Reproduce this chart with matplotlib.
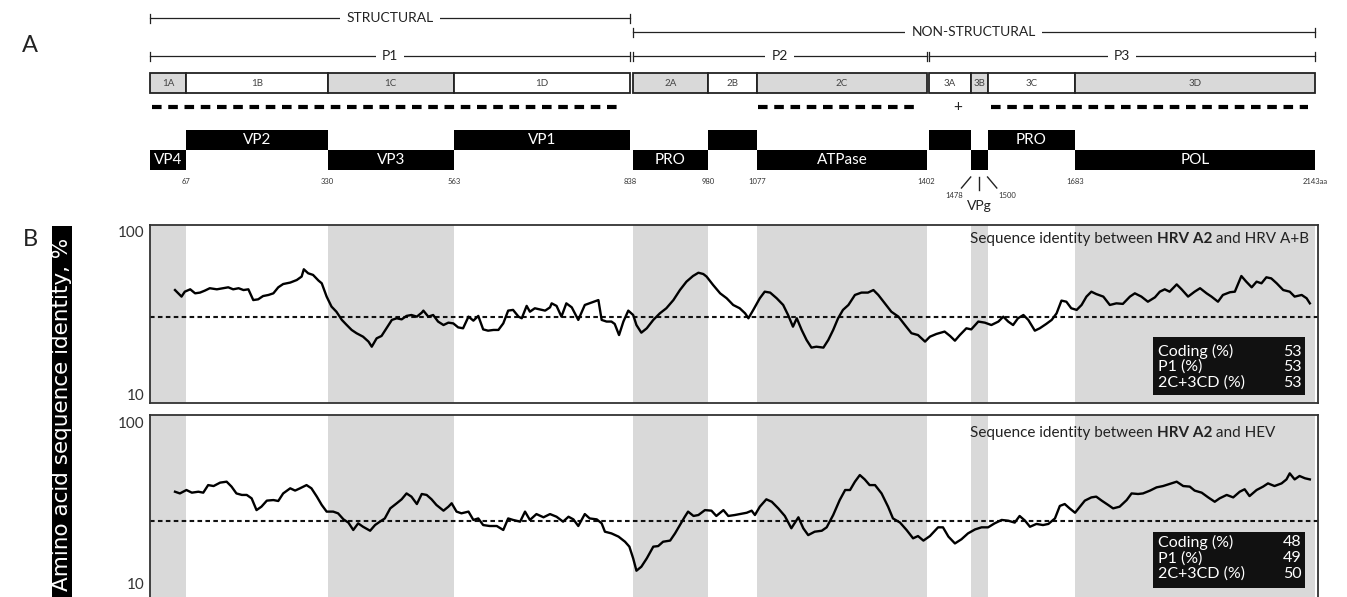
import numpy as np
import matplotlib
matplotlib.use("Agg")
import matplotlib.pyplot as plt
from matplotlib.patches import Rectangle

plt.rcParams['font.family'] = ['Lato', 'DejaVu Sans']

# genome map: aa numbering of HRV A2 and the matching alignment positions
boundary_aa = [0, 67, 330, 563, 838, 980, 1077, 1402, 1478, 1500, 1683, 2143]
boundary_pos = [0, 66, 327, 559, 883, 1027, 1117, 1429, 1510, 1541, 1702, 2143]
region_names = ['1A', '1B', '1C', '1D', '2A', '2B', '2C', '3A', '3B', '3C', '3D']
region_shaded = [True, False, True, False, True, False, True, False, True, False, True]
protein_names = ['VP4', 'VP2', 'VP3', 'VP1', 'PRO', '', 'ATPase', '', '', 'PRO', 'POL']
protein_upper = [False, True, False, True, False, True, False, True, False, True, False]
boundary_labels = ['67', '330', '563', '838', '980', '1077', '1402', '', '', '1683', '2143aa']

# sliding-window identity traces (alignment position, % identity)
ab_trace = [(46, 67.6), (58, 64.0), (64, 66.7), (74, 68.0), (83, 65.8), (92, 66.2), (101, 67.3), (110, 68.6),
            (123, 68.0), (135, 68.6), (144, 69.1), (153, 68.0), (163, 68.6), (172, 67.6), (181, 68.0), (190, 62.1),
            (199, 62.5), (208, 64.3), (218, 64.9), (227, 65.8), (236, 69.1), (245, 70.9), (258, 71.7), (270, 73.1),
            (279, 75.0), (283, 79.0), (291, 76.8), (300, 75.9), (310, 72.8), (316, 71.3), (325, 64.0), (334, 58.5),
            (343, 55.7), (353, 51.2), (362, 48.4), (371, 45.7), (380, 43.9), (392, 42.0), (402, 39.3), (408, 36.5),
            (417, 41.1), (426, 42.4), (435, 46.6), (445, 51.2), (454, 52.1), (463, 51.5), (472, 53.4), (481, 53.9),
            (491, 53.0), (500, 55.2), (503, 56.3), (512, 53.0), (521, 53.9), (530, 50.3), (540, 48.4), (549, 49.7),
            (558, 49.3), (567, 47.1), (576, 46.6), (586, 53.0), (595, 50.8), (604, 53.4), (613, 46.0), (622, 45.3),
            (632, 45.7), (641, 45.7), (650, 49.3), (659, 56.3), (668, 56.7), (678, 53.0), (684, 52.1), (693, 58.9),
            (699, 55.7), (708, 57.6), (717, 57.0), (727, 56.3), (736, 58.1),
            (739, 60.3), (748, 58.9), (757, 53.0), (766, 60.3), (776, 58.1), (788, 51.2), (800, 59.4), (812, 60.7),
            (825, 62.1), (831, 51.2), (840, 50.3), (849, 50.3), (855, 49.0), (863, 42.9), (871, 50.3), (880, 56.3),
            (889, 53.9), (895, 48.4), (904, 44.2), (914, 46.6), (926, 51.2), (938, 54.8), (950, 57.6), (963, 62.1),
            (975, 67.6), (987, 72.2), (999, 75.3), (1009, 77.1), (1018, 76.4), (1024, 75.0), (1036, 70.4),
            (1049, 65.8), (1061, 63.1), (1073, 59.4), (1085, 57.6), (1095, 54.8), (1101, 52.1), (1110, 56.7),
            (1122, 63.1), (1131, 66.7), (1141, 66.2), (1153, 63.1), (1165, 59.4), (1174, 53.9), (1183, 47.5),
            (1190, 52.1), (1199, 45.7), (1208, 40.2), (1217, 36.0), (1226, 36.5), (1239, 36.0), (1248, 40.2),
            (1257, 45.7), (1266, 52.1), (1275, 56.7), (1285, 59.4), (1297, 64.9), (1309, 66.2), (1321, 66.2),
            (1331, 67.6), (1340, 64.9), (1352, 60.3), (1364, 55.7), (1377, 53.0), (1389, 48.4), (1401, 43.9),
            (1413, 42.9), (1426, 39.3), (1435, 42.0), (1447, 43.5),
            (1462, 44.8), (1472, 42.4), (1481, 39.8), (1490, 42.9), (1502, 46.6), (1511, 46.0), (1524, 50.3),
            (1536, 49.7), (1548, 48.4), (1561, 50.3), (1570, 53.0), (1579, 50.3), (1588, 48.4), (1597, 52.1),
            (1607, 53.9), (1616, 51.2), (1628, 45.3), (1637, 46.6), (1649, 49.0), (1659, 51.2), (1668, 54.8),
            (1677, 61.8), (1686, 61.2), (1695, 57.6), (1705, 56.7), (1714, 59.4), (1723, 64.0), (1732, 66.7),
            (1741, 65.4), (1754, 64.0), (1766, 59.4), (1778, 60.3), (1790, 60.0), (1803, 64.0), (1812, 65.8),
            (1824, 64.0), (1836, 61.2), (1849, 63.6), (1858, 66.7), (1867, 68.0), (1876, 66.7), (1889, 70.7),
            (1898, 68.0), (1910, 64.0), (1922, 66.7), (1932, 68.6), (1944, 65.8), (1953, 64.0), (1965, 61.2),
            (1974, 64.9), (1987, 66.4), (1996, 66.7), (2008, 75.3), (2017, 72.2), (2027, 69.1), (2036, 72.2),
            (2045, 71.3), (2054, 74.6), (2063, 74.0), (2073, 71.3), (2085, 67.6), (2097, 66.7), (2106, 64.0),
            (2119, 64.9), (2128, 63.1), (2134, 60.3)]

hev_trace = [(46, 63.2), (55, 62.3), (67, 64.1), (77, 62.7), (89, 63.2), (98, 62.7), (107, 66.7), (117, 66.2),
             (129, 68.0), (141, 68.5), (150, 65.9), (159, 62.3), (169, 61.5), (178, 61.5), (187, 59.7), (196, 53.5),
             (205, 55.3), (215, 58.5), (227, 58.8), (236, 58.3), (245, 62.3), (258, 65.0), (267, 63.8), (276, 65.0),
             (288, 66.7), (297, 65.0), (307, 60.6), (316, 56.2), (325, 52.7), (337, 52.7), (346, 51.8), (356, 48.6),
             (365, 46.9), (374, 43.0), (383, 46.5), (392, 44.7), (405, 42.6), (414, 45.6), (423, 47.4), (432, 49.1),
             (442, 54.4), (454, 57.1), (463, 59.2), (472, 62.3), (481, 60.6), (491, 56.7), (500, 62.0), (509, 61.5),
             (518, 59.2), (527, 56.2), (540, 53.2), (549, 55.3), (555, 57.1), (564, 52.7), (573, 51.8), (586, 52.7),
             (595, 48.3), (604, 49.1), (613, 45.6), (625, 45.1), (638, 45.1), (650, 43.0), (659, 49.1), (668, 48.3),
             (681, 47.4), (690, 52.7), (699, 48.3), (711, 51.4), (724, 49.7), (736, 51.4),
             (748, 50.0), (760, 47.4), (770, 50.0), (779, 48.6), (788, 45.1), (800, 51.4), (809, 49.1), (822, 48.6),
             (831, 46.5), (837, 42.1), (849, 41.2), (862, 39.5), (874, 36.8), (882, 34.2), (889, 28.0), (895, 21.5),
             (904, 23.6), (914, 28.0), (926, 34.2), (935, 34.5), (944, 36.8), (957, 37.4), (966, 41.2), (975, 45.6),
             (984, 50.0), (990, 52.7), (1000, 50.4), (1009, 50.9), (1021, 53.5), (1033, 53.2), (1042, 50.4),
             (1055, 53.5), (1064, 50.4), (1076, 50.9), (1085, 51.4), (1098, 52.1), (1107, 53.2), (1113, 50.9),
             (1122, 55.3), (1134, 59.2), (1144, 57.9), (1156, 54.4), (1168, 50.4), (1180, 43.9), (1193, 49.7),
             (1202, 43.9), (1211, 40.3), (1223, 42.1), (1236, 42.6), (1245, 44.4), (1257, 50.9), (1269, 58.8),
             (1279, 64.1), (1288, 64.1), (1297, 68.5), (1306, 72.0), (1315, 69.7), (1324, 66.7), (1334, 66.7),
             (1346, 62.3), (1358, 55.3), (1367, 49.1), (1380, 46.9), (1392, 43.0), (1404, 38.6), (1413, 39.8),
             (1423, 37.4), (1435, 39.8), (1450, 44.4),
             (1459, 44.4), (1469, 39.5), (1481, 35.9), (1493, 38.1), (1505, 41.2), (1518, 43.3), (1530, 44.4),
             (1542, 44.4), (1554, 46.5), (1567, 48.3), (1579, 47.9), (1591, 46.9), (1600, 50.4), (1610, 47.9),
             (1619, 44.7), (1631, 46.2), (1643, 45.6), (1653, 46.2), (1665, 49.1), (1674, 55.7), (1683, 56.7),
             (1692, 54.4), (1702, 52.1), (1711, 55.3), (1720, 58.5), (1732, 60.2), (1741, 60.6), (1751, 58.5),
             (1763, 56.2), (1772, 54.4), (1784, 55.3), (1797, 58.8), (1806, 62.3), (1818, 62.0), (1827, 62.3),
             (1840, 63.8), (1852, 65.5), (1864, 66.2), (1876, 67.3), (1889, 68.5), (1901, 66.2), (1913, 65.9),
             (1922, 63.8), (1935, 62.7), (1947, 60.2), (1959, 57.9), (1968, 59.7), (1981, 61.5), (1993, 60.2),
             (2005, 63.2), (2014, 64.5), (2023, 60.9), (2036, 64.1), (2048, 65.9), (2057, 67.6), (2069, 66.2),
             (2082, 67.6), (2091, 69.7), (2097, 72.9), (2106, 69.7), (2115, 71.5), (2125, 70.3), (2134, 69.7)]

stat_labels = ['Coding (%)', 'P1 (%)', '2C+3CD (%)']
ab_stats = [53, 53, 53]
hev_stats = [48, 49, 50]
ab_mean = 53
hev_mean = 48

W, H = 1347, 597
fig = plt.figure(figsize=(W / 100, H / 100), dpi=100)


def fx(px):
    return px / W


def fy(py):
    return 1 - py / H


XMAX = 2149
GAP = 5  # small white gap where P1/P2 and P2/P3 meet
starts = list(boundary_pos[:-1])
ends = list(boundary_pos[1:])
for i in range(len(starts)):
    if boundary_aa[i] in (838, 1402):
        starts[i] += GAP

# ---------------- panel A: genome map ----------------
axa = fig.add_axes([fx(150), fy(220), fx(1168), 220 / H])
axa.set_xlim(0, XMAX)
axa.set_ylim(220, 0)
axa.axis('off')


def bracket(x0, x1, y, label):
    axa.plot([x0, x1], [y, y], color='#222', lw=0.9, clip_on=False)
    for x in (x0, x1):
        axa.plot([x, x], [y - 4.5, y + 4.5], color='#222', lw=0.9, clip_on=False)
    axa.text((x0 + x1) / 2, y, label, ha='center', va='center', fontsize=10, color='#222',
             bbox=dict(boxstyle='square,pad=0.45', fc='white', ec='none'))


bracket(starts[0], ends[3], 18, 'STRUCTURAL')
bracket(starts[4], ends[-1], 32, 'NON-STRUCTURAL')
bracket(starts[0], ends[3], 56, 'P1')
bracket(starts[4], ends[6], 56, 'P2')
bracket(starts[7], ends[-1], 56, 'P3')

for x0, x1, name, shaded in zip(starts, ends, region_names, region_shaded):
    axa.add_patch(Rectangle((x0, 73), x1 - x0, 20, fc='#d9d9d9' if shaded else 'white',
                            ec='#222', lw=1.3, clip_on=False))
    axa.text((x0 + x1) / 2, 83, name, ha='center', va='center', fontsize=7, color='#444')

# conserved stretches used for identity summaries
dash_style = dict(color='black', lw=3.0, ls=(0, (2.3, 1.6)), dash_capstyle='butt')
axa.plot([starts[0] + 4, ends[3] - 12], [107, 107], **dash_style)
axa.plot([starts[6] + 2, ends[6] - 18], [107, 107], **dash_style)
axa.plot([starts[9] + 6, ends[10] - 12], [107, 107], **dash_style)
axa.text(starts[8] - 24, 107, '+', ha='center', va='center', fontsize=11, color='#222')

for x0, x1, name, up in zip(starts, ends, protein_names, protein_upper):
    y0 = 130 if up else 150
    axa.add_patch(Rectangle((x0, y0), x1 - x0, 20, fc='black', ec='none', clip_on=False))
    if name:
        axa.text((x0 + x1) / 2, y0 + 10, name, ha='center', va='center', fontsize=11, color='white')

for x, lab in zip(boundary_pos[1:], boundary_labels):
    if lab:
        axa.text(x, 181, lab, ha='center', va='center', fontsize=5.5, color='#333')

# VPg pointer
vx0, vx1 = starts[8], ends[8]
vc = (vx0 + vx1) / 2
axa.plot([vx0, vx0 - 17], [177, 188], color='#222', lw=1, clip_on=False)
axa.plot([vc, vc], [177, 190], color='#222', lw=1, clip_on=False)
axa.plot([vx1, vx1 + 17], [177, 188], color='#222', lw=1, clip_on=False)
axa.text(vx0 - 30, 195, str(boundary_aa[8]), ha='center', va='center', fontsize=5.5, color='#333')
axa.text(vx1 + 37, 195, str(boundary_aa[9]), ha='center', va='center', fontsize=5.5, color='#333')
axa.text(vc, 206, 'VPg', ha='center', va='center', fontsize=10, color='#222', clip_on=False)

# ---------------- panel B: identity plots ----------------
ax1 = fig.add_axes([fx(150), fy(403), fx(1168), 178 / H])
ax2 = fig.add_axes([fx(150), fy(605), fx(1168), 190 / H])
ax1.set_ylim(5.6, 103.3)
ax2.set_ylim(3.4, 103.7)

panels = [
    (ax1, ab_trace, ab_mean, ab_stats, ' and HRV A+B', 0.921, [0.371, 0.045], [0.289, 0.202, 0.115]),
    (ax2, hev_trace, hev_mean, hev_stats, ' and HEV', 0.905, [0.384, 0.089], [0.329, 0.247, 0.165]),
]

for ax, trace, mean, stats, tail, ty, box, rows in panels:
    ax.set_xlim(0, XMAX)
    for x0, x1, shaded in zip(starts, ends, region_shaded):
        if shaded:
            ax.axvspan(x0, x1, color='#d9d9d9', lw=0, zorder=0)
    pos = np.array([p for p, v in trace])
    ident = np.array([v for p, v in trace])
    ax.plot(pos, ident, color='black', lw=1.7, zorder=3)
    ax.axhline(mean, color='#111', lw=1.5, ls=(0, (2.2, 1.6)), zorder=2)

    ax.set_xticks([])
    ax.set_yticks([10, 100])
    ax.tick_params(axis='y', length=0, pad=4, labelsize=11, labelcolor='#333')
    for s in ax.spines.values():
        s.set_color('#333')
        s.set_linewidth(1.3)

    t1 = ax.text(0.702, ty, 'Sequence identity between ', transform=ax.transAxes,
                 ha='left', va='center', fontsize=11, color='#222')
    t2 = ax.annotate('HRV A2', xy=(1, 0), xycoords=t1, ha='left', va='bottom',
                     fontsize=11, fontweight='bold', color='#222')
    ax.annotate(tail, xy=(1, 0), xycoords=t2, ha='left', va='bottom', fontsize=11, color='#222')

    ax.add_patch(Rectangle((0.859, box[1]), 0.13, box[0] - box[1], transform=ax.transAxes,
                           fc='#111', ec='none', zorder=4))
    for y, lab, val in zip(rows, stat_labels, stats):
        ax.text(0.863, y, lab, transform=ax.transAxes, ha='left', va='center',
                fontsize=11.5, color='white', zorder=5)
        ax.text(0.986, y, str(val), transform=ax.transAxes, ha='right', va='center',
                fontsize=11.5, color='white', zorder=5)

# the lower "10" sits at the cropped bottom edge: nudge it up a little
ax2.get_yticklabels()[0].set_va('bottom')

# y label on black bar
fig.patches.append(Rectangle((fx(52), 0), fx(20), fy(226), transform=fig.transFigure,
                             fc='black', ec='none'))
fig.text(fx(62), fy(414), 'Amino acid sequence identity, %', rotation=90, color='white',
         ha='center', va='center', fontsize=15.5, family='DejaVu Sans')

fig.text(fx(30), fy(45), 'A', ha='center', va='center', fontsize=17, color='#222')
fig.text(fx(30), fy(240), 'B', ha='center', va='center', fontsize=17, color='#222')

fig.savefig('out.png', dpi=100)
